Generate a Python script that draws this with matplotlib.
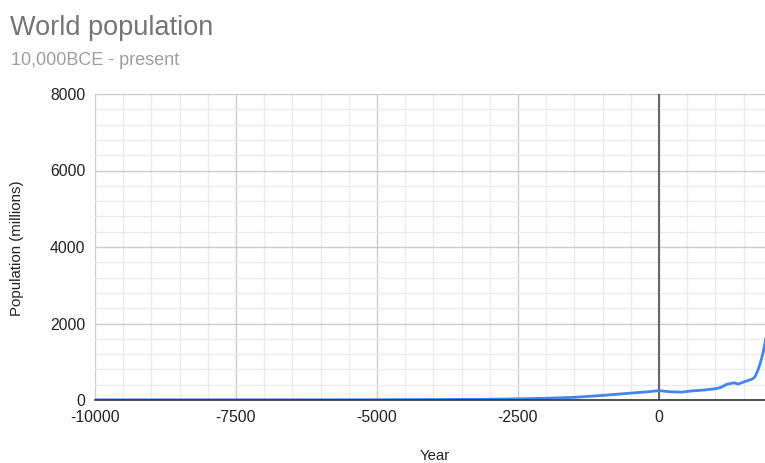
import matplotlib
matplotlib.use("Agg")
import matplotlib.pyplot as plt
from matplotlib.ticker import MultipleLocator

plt.rcParams['font.family'] = ['Liberation Sans', 'DejaVu Sans']
plt.rcParams['axes.unicode_minus'] = False

# Estimated world population (millions) by year
years = [-10000, -8000, -6500, -5000, -4000, -3000, -2500, -2000, -1500, -1000,
         -500, -200, 0, 200, 400, 600, 800, 1000, 1100, 1200, 1300, 1340, 1400,
         1500, 1600, 1650, 1700, 1750, 1800, 1850, 1900]
population = [4, 5, 5, 8, 12, 20, 30, 45, 70, 120,
              180, 215, 245, 215, 205, 240, 260, 295, 330, 410, 440, 450, 415,
              470, 520, 545, 600, 760, 980, 1260, 1650]

x_ticks = [-10000, -7500, -5000, -2500, 0]
y_ticks = [0, 2000, 4000, 6000, 8000]

fig = plt.figure(figsize=(7.65, 4.63), dpi=100)
ax = fig.add_axes([95 / 765, 1 - 400 / 463, 1 - 95 / 765, (400 - 94) / 463])

ax.plot(years, population, color='#4285F4', lw=2.0, solid_capstyle='round',
        zorder=4, clip_on=True)

ax.set_xlim(-10000, 1880)
ax.set_ylim(0, 8000)
ax.set_xticks(x_ticks)
ax.set_yticks(y_ticks)
ax.xaxis.set_minor_locator(MultipleLocator(500))
ax.yaxis.set_minor_locator(MultipleLocator(400))

ax.grid(which='major', color='#cccccc', lw=1.0, zorder=1)
ax.grid(which='minor', color='#ebebeb', lw=1.0, zorder=0)
ax.axvline(0, color='#666666', lw=1.5, zorder=3)

for side in ['top', 'right', 'left']:
    ax.spines[side].set_visible(False)
ax.spines['bottom'].set_color('#333333')
ax.spines['bottom'].set_linewidth(1.2)
ax.spines['bottom'].set_zorder(5)

ax.tick_params(which='both', length=0)
ax.tick_params(axis='x', labelsize=11.3, labelcolor='#222222', pad=7)
ax.tick_params(axis='y', labelsize=11.3, labelcolor='#222222', pad=7)

fig.text(10 / 765, 1 - 35 / 463, 'World population', fontsize=19.5,
         color='#757575', ha='left', va='baseline')
fig.text(11 / 765, 1 - 65 / 463, '10,000BCE - present', fontsize=13,
         color='#9e9e9e', ha='left', va='baseline')
fig.text(17.5 / 765, 1 - 248 / 463, 'Population (millions)', fontsize=10.8,
         color='#222222', rotation=90, ha='center', va='center')
fig.text(435 / 765, 1 - 456 / 463, 'Year', fontsize=10.8, color='#222222',
         ha='center', va='center')

fig.savefig('out.png', dpi=100, facecolor='white')
